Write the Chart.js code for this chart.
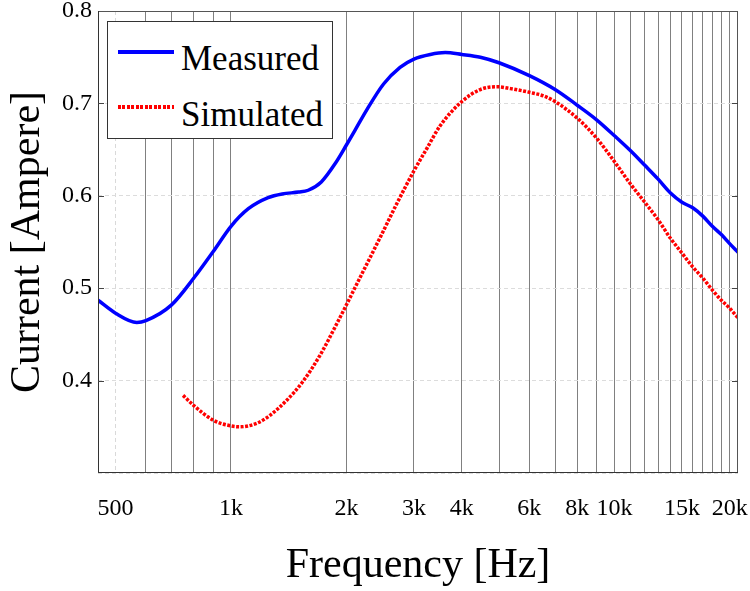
<!DOCTYPE html>
<html>
<head>
<meta charset="utf-8">
<script src="https://cdn.jsdelivr.net/npm/chart.js@4.4.0/dist/chart.umd.min.js"></script>
<style>
  body { margin: 0; background: #fff; }
  #wrap { position: relative; width: 750px; height: 591px; }
  #legend {
    position: absolute; left: 107px; top: 21px; width: 224px; height: 116px;
    border: 1px solid #333; background: #fff;
    font-family: 'Liberation Serif', serif; font-size: 35px; color: #000;
  }
  #legend .sample { position: absolute; left: 10px; width: 56px; height: 4px; }
  #legend .label { position: absolute; left: 73px; line-height: 35px; white-space: nowrap; }
  .blue { background: #0000ff; }
  .red { background: repeating-linear-gradient(90deg, #ff0000 0 3px, transparent 3px 4.5px); }
</style>
</head>
<body>
<div id="wrap">
  <canvas id="chart"></canvas>
  <div id="legend">
    <div class="sample blue" style="top:28px"></div>
    <div class="label" style="top:19px">Measured</div>
    <div class="sample red" style="top:83px"></div>
    <div class="label" style="top:75px">Simulated</div>
  </div>
</div>
<script>
// measured curve
const freqMeasured = [450, 500, 568, 600, 700, 800, 900, 1000, 1110, 1250, 1360, 1500, 1590, 1720, 1870,
  2000, 2100, 2260, 2500, 2760, 3000, 3310, 3620, 4000, 4470, 5000, 6000, 7000, 8000, 9000,
  10000, 11000, 12000, 13000, 14000, 15000, 16000, 17000, 18000, 19000, 20000, 21000];
const currentMeasured = [0.487, 0.473, 0.463, 0.465, 0.482, 0.511, 0.540, 0.567, 0.586, 0.598, 0.602, 0.604, 0.606, 0.615, 0.635,
  0.655, 0.670, 0.693, 0.721, 0.739, 0.748, 0.753, 0.755, 0.753, 0.750, 0.744, 0.730, 0.715, 0.698, 0.682,
  0.665, 0.649, 0.633, 0.618, 0.603, 0.593, 0.587, 0.578, 0.567, 0.558, 0.548, 0.539];

// simulated curve
const freqSimulated = [750, 800, 900, 1000, 1055, 1170, 1260, 1400, 1540, 1710, 1890, 2000, 2210, 2450, 2710,
  3000, 3250, 3500, 4000, 4470, 4950, 5360, 6000, 6540, 7000, 8000, 9000,
  10000, 11000, 12000, 13000, 14000, 15000, 16000, 17000, 18000, 19000, 20000, 21000];
const currentSimulated = [0.384, 0.373, 0.357, 0.351, 0.350, 0.354, 0.362, 0.379, 0.399, 0.428, 0.462, 0.482, 0.518, 0.555, 0.592,
  0.627, 0.652, 0.675, 0.702, 0.715, 0.718, 0.716, 0.712, 0.708, 0.702, 0.684, 0.662,
  0.637, 0.613, 0.593, 0.574, 0.554, 0.538, 0.523, 0.511, 0.498, 0.487, 0.478, 0.468];

// x axis: grid lines and labels
const gridFreqs = [500, 600, 700, 800, 900, 1000, 2000, 3000, 4000, 5000, 6000, 7000, 8000, 9000,
  10000, 11000, 12000, 13000, 14000, 15000, 16000, 17000, 18000, 19000, 20000];
const labelFreqs = [500, 1000, 2000, 3000, 4000, 6000, 8000, 10000, 15000, 20000];
const labelText = ['500', '1k', '2k', '3k', '4k', '6k', '8k', '10k', '15k', '20k'];
const yTicks = [0.4, 0.5, 0.6, 0.7];

const serif = "'Liberation Serif', serif";

const toPoints = (xs, ys) => xs.map((x, i) => ({ x: x, y: ys[i] }));

// box around the plot plus small inner ticks on the y axis
const frame = {
  id: 'frame',
  afterDatasetsDraw(chart) {
    const { ctx, chartArea: a, scales } = chart;
    ctx.save();
    ctx.strokeStyle = '#555';
    ctx.lineWidth = 1;
    ctx.strokeRect(a.left + 0.5, a.top + 0.5, a.right - a.left - 1, a.bottom - a.top - 1);
    ctx.strokeStyle = '#333';
    ctx.beginPath();
    ctx.moveTo(a.left + 0.5, a.top);
    ctx.lineTo(a.left + 0.5, a.bottom - 0.5);
    ctx.lineTo(a.right, a.bottom - 0.5);
    ctx.stroke();
    ctx.strokeStyle = '#444';
    yTicks.forEach(v => {
      const y = Math.round(scales.y.getPixelForValue(v)) + 0.5;
      ctx.beginPath();
      ctx.moveTo(a.left, y); ctx.lineTo(a.left + 6, y);
      ctx.moveTo(a.right, y); ctx.lineTo(a.right - 6, y);
      ctx.stroke();
    });
    ctx.restore();
  }
};

new Chart(document.getElementById('chart'), {
  type: 'line',
  data: {
    datasets: [
      {
        label: 'Measured',
        data: toPoints(freqMeasured, currentMeasured),
        borderColor: '#0000ff',
        borderWidth: 3.5,
        pointRadius: 0,
        cubicInterpolationMode: 'monotone',
        fill: false
      },
      {
        label: 'Simulated',
        data: toPoints(freqSimulated, currentSimulated),
        borderColor: '#ff0000',
        borderWidth: 3.5,
        borderDash: [3, 1.5],
        borderCapStyle: 'butt',
        pointRadius: 0,
        cubicInterpolationMode: 'monotone',
        fill: false
      }
    ]
  },
  options: {
    responsive: true,
    maintainAspectRatio: false,
    animation: false,
    layout: { padding: { top: 11, right: 12, left: 0, bottom: 0 } },
    plugins: { legend: { display: false }, tooltip: { enabled: false } },
    scales: {
      x: {
        type: 'logarithmic',
        min: 450,
        max: 21000,
        afterBuildTicks: axis => { axis.ticks = gridFreqs.map(v => ({ value: v })); },
        afterFit: s => { s.height = 118; s.paddingLeft = 0; s.paddingRight = 0; },
        ticks: {
          autoSkip: false,
          maxRotation: 0,
          padding: 21,
          color: '#000',
          font: { family: serif, size: 24 },
          callback: v => {
            const i = labelFreqs.indexOf(v);
            return i >= 0 ? labelText[i] : '';
          }
        },
        grid: {
          drawTicks: false,
          lineWidth: 1,
          color: ctx => (ctx.tick && ctx.tick.value === 500) ? '#d9d9d9' : '#808080'
        },
        border: {
          display: false,
          dash: ctx => (ctx.tick && ctx.tick.value === 500) ? [4, 3] : []
        },
        title: {
          display: true,
          text: 'Frequency [Hz]',
          color: '#000',
          font: { family: serif, size: 42, lineHeight: 1.2 },
          padding: { top: 0, bottom: 0 }
        }
      },
      y: {
        min: 0.3,
        max: 0.8,
        afterFit: s => { s.width = 98; s.paddingTop = 0; s.paddingBottom = 0; },
        ticks: {
          stepSize: 0.1,
          padding: 6,
          color: '#000',
          font: { family: serif, size: 24, lineHeight: 0.9 },
          callback: v => v < 0.35 ? '' : v.toFixed(1)
        },
        grid: { drawTicks: false, lineWidth: 1, color: '#dcdcdc' },
        border: { display: false, dash: ctx => ctx.tick ? [4, 3] : [] },
        title: {
          display: true,
          text: 'Current [Ampere]',
          color: '#000',
          font: { family: serif, size: 42, lineHeight: 1.2 },
          padding: { top: 3, bottom: 0 }
        }
      }
    }
  },
  plugins: [frame]
});
</script>
</body>
</html>
